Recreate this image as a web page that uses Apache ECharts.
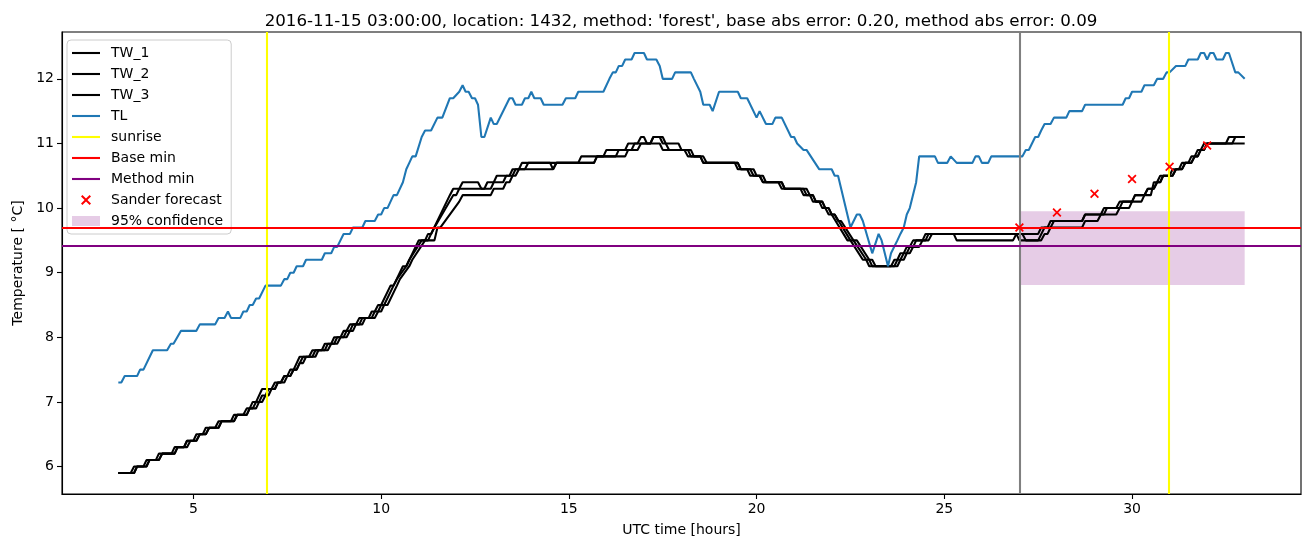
<!DOCTYPE html>
<html>
<head>
<meta charset="utf-8">
<script src="https://cdn.jsdelivr.net/npm/echarts@6/dist/echarts.min.js"></script>
<style>
  html, body { margin: 0; padding: 0; background: #fff; }
  #chart { width: 1311px; height: 547px; }
</style>
</head>
<body>
<div id="chart"></div>
<script>
// water temperature sensors, [hour, degC] vertices
const TW_1 = [[3.0,5.9],[3.33,5.9],[3.42,6.0],[3.67,6.0],[3.75,6.1],[4.0,6.1],[4.08,6.2],[4.42,6.2],[4.5,6.3],[4.75,6.3],[4.83,6.4],[5.0,6.4],[5.08,6.5],[5.25,6.5],[5.33,6.6],[5.58,6.6],[5.67,6.7],[6.0,6.7],[6.08,6.8],[6.33,6.8],[6.42,6.9],[6.5,6.9],[6.58,7.0],[6.67,7.0],[6.83,7.2],[7.08,7.2],[7.17,7.3],[7.33,7.3],[7.42,7.4],[7.5,7.4],[7.58,7.5],[7.67,7.5],[7.83,7.7],[8.08,7.7],[8.17,7.8],[8.42,7.8],[8.5,7.9],[8.67,7.9],[8.75,8.0],[8.92,8.0],[9.0,8.1],[9.08,8.1],[9.17,8.2],[9.33,8.2],[9.42,8.3],[9.67,8.3],[9.75,8.4],[9.83,8.4],[9.92,8.5],[10.0,8.5],[10.25,8.8],[10.33,8.8],[10.58,9.1],[10.67,9.1],[11.0,9.5],[11.17,9.5],[11.25,9.6],[11.33,9.6],[11.83,10.2],[11.92,10.3],[12.08,10.3],[12.17,10.4],[12.58,10.4],[12.67,10.3],[12.75,10.3],[12.83,10.4],[13.0,10.4],[13.08,10.5],[13.42,10.5],[13.5,10.6],[13.67,10.6],[13.75,10.7],[14.5,10.7],[14.58,10.6],[14.67,10.7],[15.25,10.7],[15.33,10.8],[15.92,10.8],[16.0,10.9],[16.5,10.9],[16.58,11.0],[16.83,11.0],[16.92,11.1],[17.0,11.1],[17.08,11.0],[17.17,11.0],[17.25,11.1],[17.5,11.1],[17.58,11.0],[17.92,11.0],[18.0,10.9],[18.25,10.9],[18.33,10.8],[18.5,10.8],[18.58,10.7],[19.42,10.7],[19.5,10.6],[19.75,10.6],[19.83,10.5],[20.08,10.5],[20.17,10.4],[20.58,10.4],[20.67,10.3],[21.17,10.3],[21.25,10.2],[21.42,10.2],[21.5,10.1],[21.67,10.1],[21.75,10.0],[21.83,10.0],[21.92,9.9],[22.0,9.9],[22.42,9.5],[22.5,9.5],[22.83,9.2],[22.92,9.2],[23.0,9.1],[23.58,9.1],[23.67,9.2],[23.75,9.2],[23.83,9.3],[23.92,9.3],[24.0,9.4],[24.08,9.4],[24.17,9.5],[24.42,9.5],[24.5,9.6],[27.5,9.6],[27.58,9.7],[27.75,9.7],[27.83,9.8],[28.67,9.8],[28.75,9.9],[29.17,9.9],[29.25,10.0],[29.58,10.0],[29.67,10.1],[30.0,10.1],[30.08,10.2],[30.33,10.2],[30.42,10.3],[30.58,10.3],[30.75,10.5],[31.0,10.5],[31.08,10.6],[31.25,10.6],[31.33,10.7],[31.5,10.7],[31.58,10.8],[31.67,10.8],[31.75,10.9],[31.83,10.9],[31.92,11.0],[32.5,11.0],[32.58,11.1],[33.0,11.1]];
const TW_2 = [[3.0,5.9],[3.42,5.9],[3.5,6.0],[3.75,6.0],[3.83,6.1],[4.08,6.1],[4.17,6.2],[4.5,6.2],[4.58,6.3],[4.75,6.3],[4.83,6.4],[5.08,6.4],[5.17,6.5],[5.33,6.5],[5.42,6.6],[5.67,6.6],[5.75,6.7],[6.08,6.7],[6.17,6.8],[6.42,6.8],[6.5,6.9],[6.58,6.9],[6.67,7.0],[6.75,7.0],[6.83,7.1],[6.92,7.1],[7.0,7.2],[7.17,7.2],[7.25,7.3],[7.33,7.3],[7.42,7.4],[7.58,7.4],[7.67,7.5],[7.75,7.5],[7.83,7.6],[7.92,7.7],[8.17,7.7],[8.25,7.8],[8.5,7.8],[8.58,7.9],[8.75,7.9],[8.83,8.0],[9.0,8.0],[9.08,8.1],[9.17,8.1],[9.25,8.2],[9.42,8.2],[9.5,8.3],[9.75,8.3],[9.83,8.4],[9.92,8.4],[10.0,8.5],[10.08,8.5],[10.33,8.8],[10.42,8.9],[10.67,9.1],[10.75,9.2],[11.08,9.5],[11.25,9.5],[11.33,9.6],[11.42,9.7],[11.92,10.2],[12.0,10.2],[12.08,10.3],[12.92,10.3],[13.0,10.4],[13.25,10.4],[13.33,10.5],[13.5,10.5],[13.58,10.6],[13.83,10.6],[13.92,10.7],[15.67,10.7],[15.75,10.8],[16.25,10.8],[16.33,10.9],[16.67,10.9],[16.75,11.0],[17.17,11.0],[17.25,11.1],[17.42,11.1],[17.5,11.0],[17.58,11.0],[17.67,10.9],[18.17,10.9],[18.25,10.8],[18.5,10.8],[18.58,10.7],[19.5,10.7],[19.58,10.6],[19.83,10.6],[19.92,10.5],[20.08,10.5],[20.17,10.4],[20.67,10.4],[20.75,10.3],[21.25,10.3],[21.33,10.2],[21.5,10.2],[21.58,10.1],[21.75,10.1],[21.83,10.0],[21.92,10.0],[22.0,9.9],[22.08,9.9],[22.5,9.5],[22.58,9.5],[22.92,9.2],[23.0,9.2],[23.08,9.1],[23.67,9.1],[23.75,9.2],[23.83,9.2],[23.92,9.3],[24.0,9.3],[24.08,9.4],[24.17,9.4],[24.25,9.5],[24.5,9.5],[24.58,9.6],[25.25,9.6],[25.33,9.5],[26.83,9.5],[26.92,9.6],[27.08,9.6],[27.17,9.5],[27.5,9.5],[27.67,9.7],[27.83,9.7],[27.92,9.8],[28.67,9.8],[28.75,9.9],[29.25,9.9],[29.33,10.0],[29.67,10.0],[29.75,10.1],[30.0,10.1],[30.08,10.2],[30.33,10.2],[30.42,10.3],[30.58,10.3],[30.67,10.4],[30.75,10.4],[30.83,10.5],[31.08,10.5],[31.17,10.6],[31.33,10.6],[31.42,10.7],[31.58,10.7],[31.67,10.8],[31.75,10.8],[31.83,10.9],[31.92,10.9],[32.0,11.0],[32.67,11.0],[32.75,11.1],[33.0,11.1]];
const TW_3 = [[3.0,5.9],[3.42,5.9],[3.5,6.0],[3.75,6.0],[3.83,6.1],[4.08,6.1],[4.17,6.2],[4.5,6.2],[4.58,6.3],[4.83,6.3],[4.92,6.4],[5.08,6.4],[5.17,6.5],[5.33,6.5],[5.42,6.6],[5.67,6.6],[5.75,6.7],[6.08,6.7],[6.17,6.8],[6.42,6.8],[6.5,6.9],[6.67,6.9],[6.75,7.0],[6.83,7.0],[6.92,7.1],[7.0,7.1],[7.08,7.2],[7.17,7.2],[7.25,7.3],[7.42,7.3],[7.5,7.4],[7.58,7.4],[7.67,7.5],[7.75,7.5],[7.83,7.6],[7.92,7.6],[8.0,7.7],[8.25,7.7],[8.33,7.8],[8.58,7.8],[8.67,7.9],[8.83,7.9],[8.92,8.0],[9.08,8.0],[9.17,8.1],[9.25,8.1],[9.33,8.2],[9.5,8.2],[9.58,8.3],[9.83,8.3],[9.92,8.4],[10.0,8.4],[10.08,8.5],[10.17,8.5],[10.42,8.8],[10.5,8.9],[10.75,9.1],[10.83,9.2],[11.17,9.5],[11.42,9.5],[11.5,9.7],[11.58,9.7],[12.08,10.1],[12.17,10.2],[12.92,10.2],[13.0,10.3],[13.25,10.3],[13.33,10.4],[13.42,10.4],[13.5,10.5],[13.58,10.5],[13.67,10.6],[14.58,10.6],[14.67,10.7],[15.67,10.7],[15.75,10.8],[16.5,10.8],[16.58,10.9],[16.83,10.9],[16.92,11.0],[17.42,11.0],[17.5,10.9],[18.08,10.9],[18.17,10.8],[18.58,10.8],[18.67,10.7],[19.5,10.7],[19.58,10.6],[19.92,10.6],[20.0,10.5],[20.17,10.5],[20.25,10.4],[20.67,10.4],[20.75,10.3],[21.33,10.3],[21.42,10.2],[21.5,10.2],[21.58,10.1],[21.75,10.1],[21.83,10.0],[21.92,10.0],[22.0,9.9],[22.08,9.9],[22.17,9.8],[22.25,9.8],[22.58,9.5],[22.67,9.5],[23.0,9.2],[23.08,9.2],[23.17,9.1],[23.75,9.1],[23.83,9.2],[23.92,9.2],[24.0,9.3],[24.08,9.3],[24.17,9.4],[24.33,9.4],[24.42,9.5],[24.58,9.5],[24.67,9.6],[26.92,9.6],[27.0,9.5],[27.58,9.5],[27.67,9.6],[27.75,9.6],[27.83,9.7],[28.67,9.7],[28.75,9.8],[29.08,9.8],[29.17,9.9],[29.58,9.9],[29.67,10.0],[29.92,10.0],[30.0,10.1],[30.25,10.1],[30.33,10.2],[30.5,10.2],[30.58,10.4],[30.75,10.4],[30.83,10.5],[31.08,10.5],[31.17,10.6],[31.33,10.6],[31.42,10.7],[31.58,10.7],[31.67,10.8],[31.75,10.8],[31.83,10.9],[31.92,10.9],[32.0,11.0],[33.0,11.0]];
// air temperature
const TL = [[3.0,7.3],[3.08,7.3],[3.17,7.4],[3.5,7.4],[3.58,7.5],[3.67,7.5],[3.92,7.8],[4.3,7.8],[4.4,7.9],[4.47,7.9],[4.67,8.1],[5.08,8.1],[5.17,8.2],[5.58,8.2],[5.67,8.3],[5.83,8.3],[5.92,8.4],[6.0,8.3],[6.25,8.3],[6.33,8.4],[6.42,8.4],[6.5,8.5],[6.58,8.5],[6.67,8.6],[6.75,8.6],[6.92,8.8],[7.33,8.8],[7.42,8.9],[7.5,8.9],[7.58,9.0],[7.67,9.0],[7.75,9.1],[7.92,9.1],[8.0,9.2],[8.42,9.2],[8.5,9.3],[8.67,9.3],[8.75,9.4],[8.83,9.4],[9.0,9.6],[9.17,9.6],[9.25,9.7],[9.5,9.7],[9.58,9.8],[9.83,9.8],[9.92,9.9],[10.0,9.9],[10.08,10.0],[10.17,10.0],[10.33,10.2],[10.42,10.2],[10.58,10.4],[10.67,10.6],[10.75,10.7],[10.83,10.8],[10.92,10.8],[11.08,11.1],[11.17,11.2],[11.33,11.2],[11.5,11.4],[11.63,11.4],[11.83,11.7],[11.92,11.7],[12.08,11.8],[12.17,11.9],[12.25,11.8],[12.33,11.8],[12.42,11.7],[12.5,11.7],[12.58,11.6],[12.67,11.1],[12.75,11.1],[12.92,11.4],[13.0,11.3],[13.08,11.3],[13.42,11.7],[13.5,11.7],[13.58,11.6],[13.75,11.6],[13.83,11.7],[13.92,11.7],[14.0,11.8],[14.08,11.7],[14.25,11.7],[14.33,11.6],[14.83,11.6],[14.92,11.7],[15.17,11.7],[15.25,11.8],[15.92,11.8],[16.08,12.0],[16.17,12.1],[16.25,12.1],[16.33,12.2],[16.42,12.2],[16.5,12.3],[16.67,12.3],[16.75,12.4],[17.0,12.4],[17.08,12.3],[17.33,12.3],[17.42,12.2],[17.5,12.0],[17.75,12.0],[17.83,12.1],[18.25,12.1],[18.33,12.0],[18.5,11.8],[18.58,11.6],[18.75,11.6],[18.83,11.5],[19.0,11.8],[19.5,11.8],[19.58,11.7],[19.75,11.7],[20.0,11.4],[20.08,11.5],[20.25,11.3],[20.42,11.3],[20.5,11.4],[20.67,11.4],[20.92,11.1],[21.0,11.1],[21.08,11.0],[21.25,10.9],[21.33,10.9],[21.67,10.6],[22.0,10.6],[22.08,10.5],[22.17,10.5],[22.5,9.7],[22.67,9.9],[22.75,9.9],[22.83,9.8],[23.08,9.3],[23.25,9.6],[23.33,9.5],[23.5,9.1],[23.58,9.3],[23.75,9.5],[23.83,9.6],[23.92,9.7],[24.0,9.9],[24.08,10.0],[24.25,10.4],[24.33,10.8],[24.75,10.8],[24.83,10.7],[25.08,10.7],[25.17,10.8],[25.33,10.7],[25.75,10.7],[25.83,10.8],[25.92,10.8],[26.0,10.7],[26.17,10.7],[26.25,10.8],[27.08,10.8],[27.17,10.9],[27.25,10.9],[27.42,11.1],[27.5,11.1],[27.58,11.2],[27.67,11.3],[27.83,11.3],[27.92,11.4],[28.25,11.4],[28.33,11.5],[28.67,11.5],[28.75,11.6],[29.75,11.6],[29.83,11.7],[29.92,11.7],[30.0,11.8],[30.25,11.8],[30.33,11.9],[30.58,11.9],[30.67,12.0],[30.83,12.0],[30.92,12.1],[31.0,12.1],[31.17,12.2],[31.42,12.2],[31.5,12.3],[31.75,12.3],[31.83,12.4],[31.92,12.4],[32.0,12.3],[32.08,12.4],[32.17,12.4],[32.25,12.3],[32.42,12.3],[32.5,12.4],[32.58,12.4],[32.75,12.1],[32.83,12.1],[33.0,12.0]];
const sunrise = [6.96, 30.99];
const forecastStart = 27;
const baseMin = 9.7;
const methodMin = 9.42;
const sander = [[27,9.70],[28,9.93],[29,10.22],[30,10.45],[31,10.64],[32,10.97]];
// [x from, x to, y low, y high]
const confidence = [27, 33, 8.81, 9.95];
const xTicks = [5, 10, 15, 20, 25, 30];
const yTicks = [6, 7, 8, 9, 10, 11, 12];

const FONT = 'DejaVu Sans';
const LW = 2.08; // 1.5pt at 100 dpi
const X_MARK = 'path://M0,1.4L1.4,0L5,3.6L8.6,0L10,1.4L6.4,5L10,8.6L8.6,10L5,6.4L1.4,10L0,8.6L3.6,5Z';
const LINE_ICON = 'path://M0,0H28V2.1H0Z';

const chart = echarts.init(document.getElementById('chart'));

function lineSeries(name, data, color) {
  return {
    name: name,
    type: 'line',
    data: data,
    color: color,
    symbol: 'none',
    showSymbol: false,
    lineStyle: { color: color, width: LW },
    emphasis: { disabled: true },
    z: 3
  };
}

// series that only carries a reference line
function refLine(name, color, marks, z) {
  return {
    name: name,
    type: 'line',
    data: [],
    color: color,
    symbol: 'none',
    lineStyle: { color: color, width: LW },
    z: z,
    markLine: {
      silent: true,
      symbol: ['none', 'none'],
      label: { show: false },
      lineStyle: { color: color, width: LW, type: 'solid' },
      emphasis: { disabled: true },
      data: marks
    }
  };
}

function lineItem(name) {
  return { name: name, icon: LINE_ICON };
}

const option = {
  animation: false,
  backgroundColor: '#fff',
  textStyle: { fontFamily: FONT },
  title: {
    text: "2016-11-15 03:00:00, location: 1432, method: 'forest', base abs error: 0.20, method abs error: 0.09",
    left: 676,
    textAlign: 'center',
    top: 8,
    textStyle: { fontFamily: FONT, fontSize: 16.7, fontWeight: 'normal', color: '#000' }
  },
  grid: {
    left: 62, right: 10, top: 32, bottom: 53,
    show: true, borderColor: '#000', borderWidth: 1.1, backgroundColor: 'transparent'
  },
  legend: {
    orient: 'vertical',
    left: 67,
    top: 40,
    padding: [6, 8, 6, 5],
    itemWidth: 28,
    itemHeight: 10,
    itemGap: 7,
    backgroundColor: 'rgba(255,255,255,0.8)',
    borderColor: '#cccccc',
    borderWidth: 1,
    borderRadius: 4,
    selectedMode: false,
    textStyle: { fontFamily: FONT, fontSize: 14, lineHeight: 14, color: '#000', padding: [0, 0, 0, 6] },
    data: [
      lineItem('TW_1'), lineItem('TW_2'), lineItem('TW_3'), lineItem('TL'), lineItem('sunrise'),
      lineItem('Base min'), lineItem('Method min'), 'Sander forecast',
      { name: '95% confidence', icon: 'rect', itemStyle: { color: 'rgba(128,0,128,0.2)', borderWidth: 0 } }
    ]
  },
  xAxis: {
    type: 'value',
    min: 1.5,
    max: 34.5,
    name: 'UTC time [hours]',
    nameLocation: 'middle',
    nameGap: 29,
    nameTextStyle: { fontFamily: FONT, fontSize: 14, color: '#000' },
    splitLine: { show: false },
    axisLine: { show: true, onZero: false, lineStyle: { color: '#000', width: 1.1 } },
    axisTick: { show: true, length: 5, lineStyle: { color: '#000', width: 1.1 }, customValues: xTicks },
    axisLabel: { fontFamily: FONT, fontSize: 14, color: '#000', margin: 8, customValues: xTicks }
  },
  yAxis: {
    type: 'value',
    min: 5.575,
    max: 12.725,
    name: 'Temperature [ °C]',
    nameLocation: 'middle',
    nameGap: 36,
    nameTextStyle: { fontFamily: FONT, fontSize: 14, color: '#000' },
    splitLine: { show: false },
    axisLine: { show: true, onZero: false, lineStyle: { color: '#000', width: 1.1 } },
    axisTick: { show: true, length: 5, lineStyle: { color: '#000', width: 1.1 }, customValues: yTicks },
    axisLabel: { fontFamily: FONT, fontSize: 14, color: '#000', margin: 8, customValues: yTicks }
  },
  series: [
    {
      name: '95% confidence',
      type: 'line',
      data: [],
      color: 'rgba(128,0,128,0.2)',
      symbol: 'none',
      z: 1,
      markArea: {
        silent: true,
        itemStyle: { color: 'rgba(128,0,128,0.2)' },
        emphasis: { disabled: true },
        data: [[
          { xAxis: confidence[0], yAxis: confidence[2] },
          { xAxis: confidence[1], yAxis: confidence[3] }
        ]]
      }
    },
    lineSeries('TW_1', TW_1, '#000000'),
    lineSeries('TW_2', TW_2, '#000000'),
    lineSeries('TW_3', TW_3, '#000000'),
    lineSeries('TL', TL, '#1f77b4'),
    refLine('now', '#808080', [{ xAxis: forecastStart }], 4),
    refLine('sunrise', '#ffff00', sunrise.map(function (h) { return { xAxis: h }; }), 4),
    refLine('Base min', '#ff0000', [{ yAxis: baseMin }], 4),
    refLine('Method min', '#800080', [{ yAxis: methodMin }], 4),
    {
      name: 'Sander forecast',
      type: 'scatter',
      data: sander,
      symbol: X_MARK,
      symbolSize: 9,
      color: '#ff0000',
      itemStyle: { color: '#ff0000', opacity: 1 },
      emphasis: { disabled: true },
      z: 5
    }
  ]
};

chart.setOption(option);
</script>
</body>
</html>
